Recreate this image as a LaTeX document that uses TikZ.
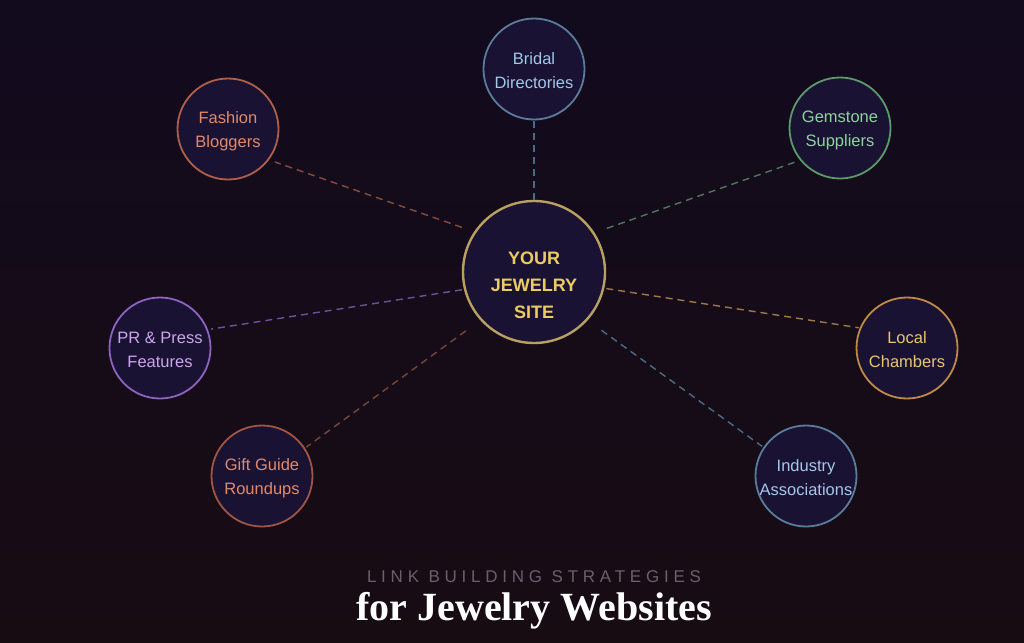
\documentclass[tikz,border=0pt]{standalone}
\usepackage{fontspec}
\setmainfont{Liberation Sans}
\newfontfamily\titlefont{Liberation Serif}
\newfontfamily\trackfont[LetterSpace=28]{Liberation Sans}
\definecolor{bgA}{HTML}{120B1E}
\definecolor{bgB}{HTML}{180C13}
\definecolor{fillc}{HTML}{1A1232}
\definecolor{hubB}{HTML}{B8A060}
\definecolor{hubT}{HTML}{EBCB62}
\definecolor{blueB}{HTML}{5A7C9C}
\definecolor{blueT}{HTML}{A2C8EA}
\definecolor{blueL}{HTML}{4C6A86}
\definecolor{rustB}{HTML}{B0604A}
\definecolor{rustT}{HTML}{E08A6C}
\definecolor{rustL}{HTML}{8A4A3C}
\definecolor{greenB}{HTML}{5C9A6A}
\definecolor{greenT}{HTML}{8CD49C}
\definecolor{greenL}{HTML}{4A7A58}
\definecolor{purpB}{HTML}{8E62C0}
\definecolor{purpT}{HTML}{CCA6EC}
\definecolor{purpL}{HTML}{6E50A0}
\definecolor{goldB}{HTML}{C08A44}
\definecolor{goldT}{HTML}{EAC474}
\definecolor{goldL}{HTML}{A07A44}
\definecolor{giftB}{HTML}{A05444}
\definecolor{giftL}{HTML}{7A4438}
\definecolor{subT}{HTML}{6C5E6E}
\begin{document}
\begin{tikzpicture}[x=1pt,y=-1pt,
  sat/.style={circle, draw, line width=1.8pt, fill=fillc, minimum size=101pt, inner sep=0pt},
  sattext/.style={align=center, font=\fontsize{16.5}{24}\selectfont, yshift=-2pt},
  hubnode/.style={circle, draw=hubB, line width=2.4pt, fill=fillc, minimum size=142pt, inner sep=0pt},
  hubtext/.style={align=center, text=hubT, font=\fontsize{18}{27}\selectfont\bfseries, yshift=-13pt},
  link/.style={dashed, dash pattern=on 7pt off 5pt, line width=1.4pt}
]
\shade[left color=bgA, right color=bgB, shading angle=0] (0,0) rectangle (1024,642);
\useasboundingbox (0,0) rectangle (1024,642);

\node[hubnode, label={[hubtext]center:{YOUR\\JEWELRY\\SITE}}] (hub) at (534,272) {};
\node[sat, draw=blueB, label={[sattext, text=blueT]center:{Bridal\\Directories}}] (bridal) at (534,69) {};
\node[sat, draw=rustB, label={[sattext, text=rustT]center:{Fashion\\Bloggers}}] (fashion) at (228,129) {};
\node[sat, draw=greenB, label={[sattext, text=greenT]center:{Gemstone\\Suppliers}}] (gem) at (840,128) {};
\node[sat, draw=purpB, label={[sattext, text=purpT]center:{PR \& Press\\Features}}] (pr) at (160,348) {};
\node[sat, draw=goldB, label={[sattext, text=goldT]center:{Local\\Chambers}}] (local) at (907,348) {};
\node[sat, draw=giftB, label={[sattext, text=rustT]center:{Gift Guide\\Roundups}}] (gift) at (262,476) {};
\node[sat, draw=blueB, label={[sattext, text=blueT]center:{Industry\\Associations}}] (ind) at (806,476) {};

\draw[link, blueL] (hub.north) -- (bridal.south);
\draw[link, rustL, shorten <=13pt, shorten >=6pt] (hub.146.9) -- (fashion.-37.3);
\draw[link, greenL, shorten <=13pt, shorten >=6pt] (hub.33.1) -- (gem.219.4);
\draw[link, purpL, shorten <=2pt, shorten >=3pt] (hub.194) -- (pr.21.4);
\draw[link, goldL, shorten <=2pt, shorten >=1pt] (hub.-13.9) -- (local.157.4);
\draw[link, giftL, shorten <=18pt, shorten >=1.5pt] (hub.222.6) -- (gift.33.2);
\draw[link, blueL, shorten <=17pt, shorten >=1.5pt] (hub.-42.4) -- (ind.146.5);

\node[text=subT, font=\fontsize{17}{18}\trackfont] (sub) at (534,577) {LINK BUILDING STRATEGIES};
\node[text=white, font=\fontsize{40}{44}\titlefont\bfseries] (title) at (534,611) {for Jewelry Websites};
\end{tikzpicture}
\end{document}
